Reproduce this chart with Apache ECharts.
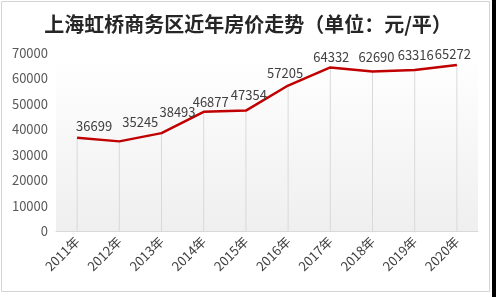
<!DOCTYPE html>
<html><head><meta charset="utf-8">
<script src="https://cdn.jsdelivr.net/npm/echarts@6/dist/echarts.min.js"></script>
<style>html,body{margin:0;padding:0;background:#fff}#c{width:496px;height:297px}</style>
</head><body><div id="c"></div>
<script>
var titleText = '上海虹桥商务区近年房价走势（单位：元/平）';
var categories = ['2011年','2012年','2013年','2014年','2015年','2016年','2017年','2018年','2019年','2020年'];
var prices = [36699, 35245, 38493, 46877, 47354, 57205, 64332, 62690, 63316, 65272];
var yTicks = [0, 10000, 20000, 30000, 40000, 50000, 60000, 70000];

var labelShift = [[17,-1],[21,-9],[16,-11],[7,1],[3,-5],[-3,-2],[1,0],[4,-4],[1,-4],[-4,0]];
var font = '"Noto Sans CJK SC", "Noto Sans", sans-serif';
var chart = echarts.init(document.getElementById('c'));
chart.setOption({
  animation: false,
  backgroundColor: '#fff',
  title: {
    text: titleText, left: 'center', top: 9,
    textStyle: {fontFamily: font, fontSize: 20, fontWeight: 'bold', color: '#262626'}
  },
  graphic: [
    {type:'rect', shape:{x:1.5,y:1.5,width:488,height:290}, style:{fill:'none', stroke:'#d4d4d4', lineWidth:1}, z:-1},
    {type:'rect', shape:{x:492,y:0,width:4,height:297}, style:{fill:'#000'}}
  ],
  grid: {
    left: 56, right: 18, top: 53, bottom: 66, show: true, borderWidth: 0,
    backgroundColor: new echarts.graphic.LinearGradient(0,0,0,1,[{offset:0,color:'#ffffff'},{offset:1,color:'#efefef'}])
  },
  xAxis: {
    type: 'category', data: categories, boundaryGap: true,
    axisLine: {show: true, lineStyle: {color: '#d9d9d9', width: 1}},
    axisTick: {show: false},
    axisLabel: {rotate: 45, margin: 8, fontFamily: font, fontSize: 13, color: '#404040', interval: 0}
  },
  yAxis: {
    type: 'value', min: yTicks[0], max: yTicks[yTicks.length-1], interval: 10000,
    axisLine: {show: false}, axisTick: {show: false}, splitLine: {show: false},
    axisLabel: {margin: 8, fontFamily: font, fontSize: 13, color: '#595959',
      formatter: function(v){ return String(v); }}
  },
  series: [
    {
      type: 'bar', data: prices, barWidth: 1, silent: true,
      itemStyle: {color: '#d9d9d9'}, z: 1
    },
    {
      type: 'line', data: prices.map(function(v,i){
        return {value: v, label: {offset: labelShift[i]}};
      }),
      showSymbol: true, symbol: 'circle', symbolSize: 0,
      itemStyle: {color: '#c00000'},
      lineStyle: {color: '#c00000', width: 2.5},
      label: {show: true, position: 'top', distance: 4, fontFamily: font, fontSize: 13, color: '#404040'},
      z: 3
    }
  ]
});
</script></body></html>
